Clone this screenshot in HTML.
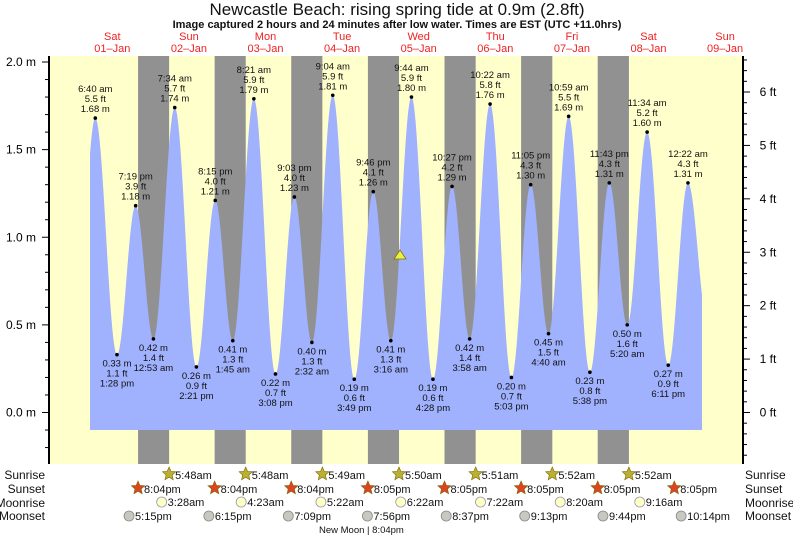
<!DOCTYPE html>
<html><head><meta charset="utf-8"><style>
body{margin:0;background:#fff;}
svg{display:block;font-family:"Liberation Sans",sans-serif;}
</style></head><body>
<svg id="s" width="793" height="538" xmlns="http://www.w3.org/2000/svg"></svg>
<script>
const S=document.getElementById('s');
let h='';
const X0=74, PH=76.6/24;
const xt=(d,hh,mm)=>X0+(d*24+hh+mm/60)*PH;
const ym=m=>412.5-m*175.25;
h+='<rect x="50" y="56" width="693" height="408" fill="#ffffcc"/>';
const ss=[],sr=[];
for(let d=0;d<8;d++){ss.push(xt(d,20,[4,4,4,5,5,5,5,5][d]));}
const srm=[48,48,49,50,51,52,52];
for(let d=1;d<8;d++){sr.push(xt(d,5,srm[d-1]));}
for(let i=0;i<7;i++){h+=`<rect x="${ss[i]}" y="56" width="${sr[i]-ss[i]}" height="408" fill="#919191"/>`;}
const E=[[0,0,30,0.45,0],[0,6,40,1.68,1],[0,13,28,0.33,0],[0,19,19,1.18,1],[1,0,53,0.42,0],[1,7,34,1.74,1],[1,14,21,0.26,0],[1,20,15,1.21,1],[2,1,45,0.41,0],[2,8,21,1.79,1],[2,15,8,0.22,0],[2,21,3,1.23,1],[3,2,32,0.40,0],[3,9,4,1.81,1],[3,15,49,0.19,0],[3,21,46,1.26,1],[4,3,16,0.41,0],[4,9,44,1.80,1],[4,16,28,0.19,0],[4,22,27,1.29,1],[5,3,58,0.42,0],[5,10,22,1.76,1],[5,17,3,0.20,0],[5,23,5,1.30,1],[6,4,40,0.45,0],[6,10,59,1.69,1],[6,17,38,0.23,0],[6,23,43,1.31,1],[7,5,20,0.50,0],[7,11,34,1.60,1],[7,18,11,0.27,0],[8,0,22,1.31,1],[8,6,40,0.5,0]];
const P=E.map(e=>[xt(e[0],e[1],e[2]),e[3]]);
function val(x){for(let i=0;i<P.length-1;i++){if(x>=P[i][0]&&x<=P[i+1][0]){const f=(x-P[i][0])/(P[i+1][0]-P[i][0]);return P[i][1]+(P[i+1][1]-P[i][1])*(1-Math.cos(Math.PI*f))/2;}}return 0.5;}
let d='M90,430';
for(let x=90;x<=702;x+=0.5){d+=` L${x.toFixed(1)},${ym(val(x)).toFixed(1)}`;}
d+=' L702,430 Z';
h+=`<path d="${d}" fill="#a0b1fd"/>`;
const fmt=(hh,mm)=>{let ap=hh<12?'am':'pm';let h12=hh%12;if(h12==0)h12=12;return h12+':'+String(mm).padStart(2,'0')+' '+ap;};
for(let i=1;i<E.length-1;i++){const e=E[i];const x=P[i][0],y=ym(e[3]);const ft=(e[3]/0.3048).toFixed(1);
h+=`<circle cx="${x}" cy="${y}" r="1.8" fill="#000"/>`;
const ls=[fmt(e[1],e[2]),ft+' ft',e[3].toFixed(2)+' m'];
if(e[4]){ls.forEach((t,k)=>{h+=`<text x="${x}" y="${y-26+k*10}" font-size="9.5" text-anchor="middle" fill="#111">${t}</text>`;});}
else{ls.reverse().forEach((t,k)=>{h+=`<text x="${x}" y="${y+12+k*10}" font-size="9.5" text-anchor="middle" fill="#111">${t}</text>`;});}
}
h+='<polygon points="394,259 406,259 400,250" fill="#eeee44" stroke="#777700" stroke-width="0.8"/>';
h+='<line x1="49" y1="56" x2="49" y2="464" stroke="#000" stroke-width="2"/>';
for(let k=-5;k<=22;k++){const m=k/10;const y=ym(m);if(y<56||y>464)continue;const maj=k%5==0;h+=`<line x1="${maj?42:45}" y1="${y}" x2="49" y2="${y}" stroke="#000"/>`;if(maj)h+=`<text x="36" y="${y+4}" font-size="12" text-anchor="end">${m.toFixed(1)} m</text>`;}
h+='<line x1="743" y1="56" x2="743" y2="464" stroke="#000" stroke-width="2"/>';
for(let k=-5;k<=35;k++){const ft=k/5;const y=412.5-ft*0.3048*175.25;if(y<55||y>465)continue;const maj=k%5==0;h+=`<line x1="743" y1="${y}" x2="${maj?750:747}" y2="${y}" stroke="#000"/>`;if(maj)h+=`<text x="768" y="${y+4}" font-size="12" text-anchor="middle">${ft} ft</text>`;}
h+='<text x="397" y="15" font-size="17" text-anchor="middle" fill="#111">Newcastle Beach: rising  spring tide at 0.9m (2.8ft)</text>';
h+='<text x="397" y="28" font-size="11" font-weight="bold" text-anchor="middle" fill="#111">Image captured 2 hours and 24 minutes after low water. Times are EST (UTC +11.0hrs)</text>';
const dn=['Sat','Sun','Mon','Tue','Wed','Thu','Fri','Sat','Sun'];
for(let i=0;i<9;i++){const x=xt(i,12,0);h+=`<text x="${x}" y="40" font-size="11" text-anchor="middle" fill="#ee2222">${dn[i]}</text><text x="${x}" y="52" font-size="11" text-anchor="middle" fill="#ee2222">${String(i+1).padStart(2,'0')}–Jan</text>`;}
const rows=[['Sunrise',475],['Sunset',489],['Moonrise',503],['Moonset',516]];
rows.forEach(r=>{h+=`<text x="45" y="${r[1]+4}" font-size="12" text-anchor="end" fill="#111">${r[0]}</text><text x="745" y="${r[1]+4}" font-size="12" fill="#111">${r[0]}</text>`;});
function star(cx,cy,col){let p=[];for(let i=0;i<10;i++){const r=i%2?3.2:7;const a=-Math.PI/2+i*Math.PI/5;p.push((cx+r*Math.cos(a)).toFixed(1)+','+(cy+r*Math.sin(a)).toFixed(1));}return `<polygon points="${p.join(' ')}" fill="${col}" stroke="#776600" stroke-width="0.6"/>`;}
sr.forEach((x,i)=>{h+=star(x,474,'#bbb033')+`<text x="${x+6}" y="479" font-size="11" fill="#111">5:${srm[i]}am</text>`;});
ss.forEach((x,i)=>{h+=star(x,488,'#dd4422')+`<text x="${x+6}" y="493" font-size="11" fill="#111">8:0${[4,4,4,5,5,5,5,5][i]}pm</text>`;});
const mr=[[3,28],[4,23],[5,22],[6,22],[7,22],[8,20],[9,16]];
mr.forEach((t,i)=>{const x=xt(i+1,t[0],t[1]);h+=`<circle cx="${x}" cy="502" r="5" fill="#ffffcc" stroke="#999" stroke-width="0.8"/><text x="${x+6}" y="506" font-size="11" fill="#111">${t[0]}:${String(t[1]).padStart(2,'0')}am</text>`;});
const ms=[[17,15],[18,15],[19,9],[19,56],[20,37],[21,13],[21,44],[22,14]];
ms.forEach((t,i)=>{const x=xt(i,t[0],t[1]);h+=`<circle cx="${x}" cy="516" r="5" fill="#c8c8c0" stroke="#888" stroke-width="0.8"/><text x="${x+6}" y="520" font-size="11" fill="#111">${t[0]-12}:${String(t[1]).padStart(2,'0')}pm</text>`;});
h+='<text x="319" y="533" font-size="9.5" fill="#111">New Moon | 8:04pm</text>';
S.innerHTML=h;
</script>
</body></html>
